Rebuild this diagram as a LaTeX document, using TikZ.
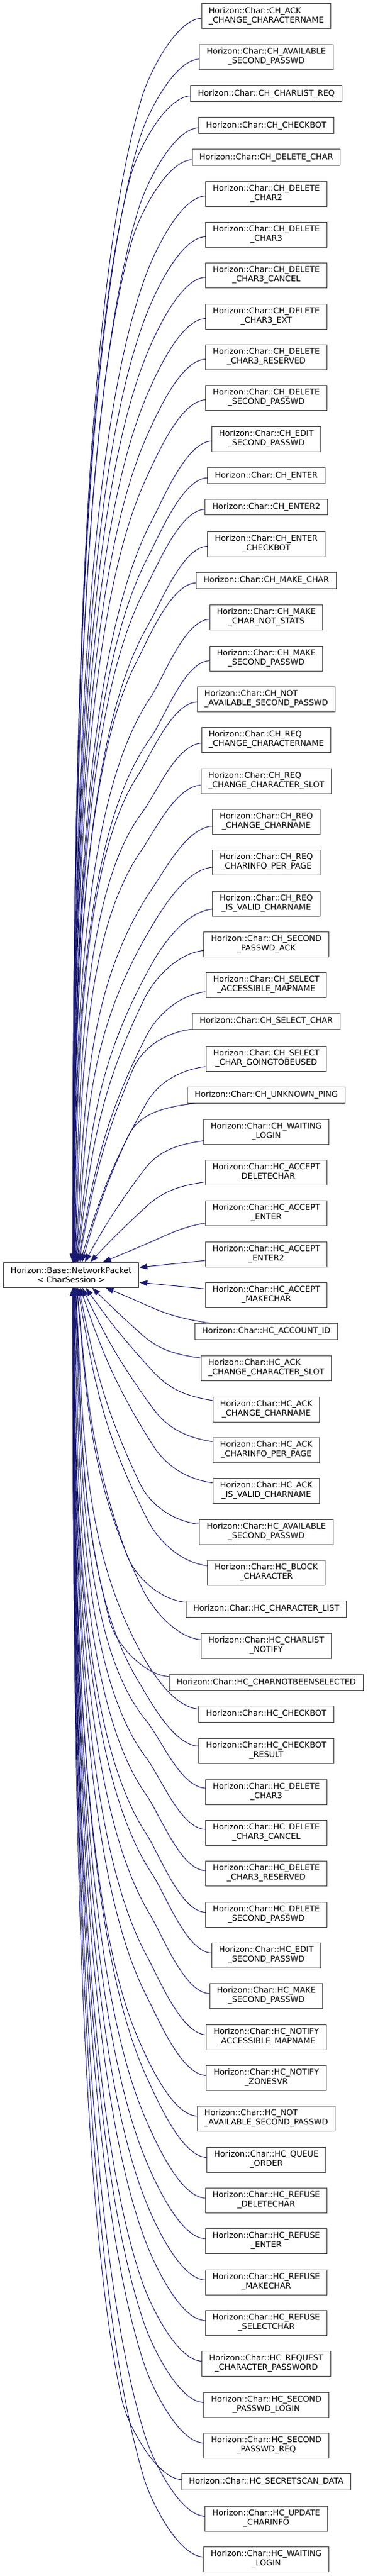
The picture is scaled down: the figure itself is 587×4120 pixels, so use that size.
\documentclass[tikz,border=0pt]{standalone}
\usepackage{fontspec}
\setmainfont{DejaVu Sans}
\usetikzlibrary{arrows.meta}
\newdimen\mywx
\definecolor{edgeblue}{HTML}{191970}
\definecolor{boxgray}{HTML}{404040}
\begin{document}
\begin{tikzpicture}[x=1pt,y=-1pt,
  cls/.style={draw=boxgray, line width=1pt, fill=white, inner xsep=11.5pt, inner ysep=0pt, font=\fontsize{12.85}{15}\selectfont},
  edge/.style={draw=edgeblue, line width=1pt, -{Triangle[length=13pt,width=9pt]}},
]
\useasboundingbox (0,0) rectangle (587,4120);
\node[cls, align=center, minimum height=40pt] (par) at (113.7,2039) {Horizon::Base::NetworkPacket\\< CharSession >};
\foreach \i/\yc/\nl/\al/\txt in {
1/25.7/2/1/{Horizon::Char::CH\_ACK\\\_CHANGE\_CHARACTERNAME},
2/91/2/0/{Horizon::Char::CH\_AVAILABLE\\\_SECOND\_PASSWD},
3/149.7/1/0/{Horizon::Char::CH\_CHARLIST\_REQ},
4/200.7/1/0/{Horizon::Char::CH\_CHECKBOT},
5/251.7/1/0/{Horizon::Char::CH\_DELETE\_CHAR},
6/310/2/0/{Horizon::Char::CH\_DELETE\\\_CHAR2},
7/375/2/0/{Horizon::Char::CH\_DELETE\\\_CHAR3},
8/440/2/0/{Horizon::Char::CH\_DELETE\\\_CHAR3\_CANCEL},
9/506/2/0/{Horizon::Char::CH\_DELETE\\\_CHAR3\_EXT},
10/571/2/0/{Horizon::Char::CH\_DELETE\\\_CHAR3\_RESERVED},
11/636/2/0/{Horizon::Char::CH\_DELETE\\\_SECOND\_PASSWD},
12/702/2/0/{Horizon::Char::CH\_EDIT\\\_SECOND\_PASSWD},
13/760.7/1/0/{Horizon::Char::CH\_ENTER},
14/811/1/0/{Horizon::Char::CH\_ENTER2},
15/870/2/0/{Horizon::Char::CH\_ENTER\\\_CHECKBOT},
16/928.5/1/0/{Horizon::Char::CH\_MAKE\_CHAR},
17/987/2/0/{Horizon::Char::CH\_MAKE\\\_CHAR\_NOT\_STATS},
18/1053/2/0/{Horizon::Char::CH\_MAKE\\\_SECOND\_PASSWD},
19/1118/2/1/{Horizon::Char::CH\_NOT\\\_AVAILABLE\_SECOND\_PASSWD},
20/1183/2/1/{Horizon::Char::CH\_REQ\\\_CHANGE\_CHARACTERNAME},
21/1249/2/1/{Horizon::Char::CH\_REQ\\\_CHANGE\_CHARACTER\_SLOT},
22/1314/2/0/{Horizon::Char::CH\_REQ\\\_CHANGE\_CHARNAME},
23/1379/2/0/{Horizon::Char::CH\_REQ\\\_CHARINFO\_PER\_PAGE},
24/1445/2/0/{Horizon::Char::CH\_REQ\\\_IS\_VALID\_CHARNAME},
25/1510/2/0/{Horizon::Char::CH\_SECOND\\\_PASSWD\_ACK},
26/1575/2/0/{Horizon::Char::CH\_SELECT\\\_ACCESSIBLE\_MAPNAME},
27/1633.5/1/0/{Horizon::Char::CH\_SELECT\_CHAR},
28/1693/2/0/{Horizon::Char::CH\_SELECT\\\_CHAR\_GOINGTOBEUSED},
29/1751.5/1/0/{Horizon::Char::CH\_UNKNOWN\_PING},
30/1810/2/0/{Horizon::Char::CH\_WAITING\\\_LOGIN},
31/1875/2/0/{Horizon::Char::HC\_ACCEPT\\\_DELETECHAR},
32/1940/2/0/{Horizon::Char::HC\_ACCEPT\\\_ENTER},
33/2006/2/0/{Horizon::Char::HC\_ACCEPT\\\_ENTER2},
34/2071/2/0/{Horizon::Char::HC\_ACCEPT\\\_MAKECHAR},
35/2129.5/1/0/{Horizon::Char::HC\_ACCOUNT\_ID},
36/2188/2/1/{Horizon::Char::HC\_ACK\\\_CHANGE\_CHARACTER\_SLOT},
37/2254/2/0/{Horizon::Char::HC\_ACK\\\_CHANGE\_CHARNAME},
38/2319/2/0/{Horizon::Char::HC\_ACK\\\_CHARINFO\_PER\_PAGE},
39/2384/2/0/{Horizon::Char::HC\_ACK\\\_IS\_VALID\_CHARNAME},
40/2450/2/0/{Horizon::Char::HC\_AVAILABLE\\\_SECOND\_PASSWD},
41/2515/2/0/{Horizon::Char::HC\_BLOCK\\\_CHARACTER},
42/2573.5/1/0/{Horizon::Char::HC\_CHARACTER\_LIST},
43/2632/2/0/{Horizon::Char::HC\_CHARLIST\\\_NOTIFY},
44/2691/1/0/{Horizon::Char::HC\_CHARNOTBEENSELECTED},
45/2741.5/1/0/{Horizon::Char::HC\_CHECKBOT},
46/2800/2/0/{Horizon::Char::HC\_CHECKBOT\\\_RESULT},
47/2866/2/0/{Horizon::Char::HC\_DELETE\\\_CHAR3},
48/2931/2/0/{Horizon::Char::HC\_DELETE\\\_CHAR3\_CANCEL},
49/2996/2/0/{Horizon::Char::HC\_DELETE\\\_CHAR3\_RESERVED},
50/3062/2/0/{Horizon::Char::HC\_DELETE\\\_SECOND\_PASSWD},
51/3127/2/0/{Horizon::Char::HC\_EDIT\\\_SECOND\_PASSWD},
52/3192/2/0/{Horizon::Char::HC\_MAKE\\\_SECOND\_PASSWD},
53/3258/2/0/{Horizon::Char::HC\_NOTIFY\\\_ACCESSIBLE\_MAPNAME},
54/3323/2/0/{Horizon::Char::HC\_NOTIFY\\\_ZONESVR},
55/3388/2/1/{Horizon::Char::HC\_NOT\\\_AVAILABLE\_SECOND\_PASSWD},
56/3454/2/0/{Horizon::Char::HC\_QUEUE\\\_ORDER},
57/3519/2/0/{Horizon::Char::HC\_REFUSE\\\_DELETECHAR},
58/3584/2/0/{Horizon::Char::HC\_REFUSE\\\_ENTER},
59/3650/2/0/{Horizon::Char::HC\_REFUSE\\\_MAKECHAR},
60/3715/2/0/{Horizon::Char::HC\_REFUSE\\\_SELECTCHAR},
61/3780/2/0/{Horizon::Char::HC\_REQUEST\\\_CHARACTER\_PASSWORD},
62/3846/2/0/{Horizon::Char::HC\_SECOND\\\_PASSWD\_LOGIN},
63/3911/2/0/{Horizon::Char::HC\_SECOND\\\_PASSWD\_REQ},
64/3969.5/1/0/{Horizon::Char::HC\_SECRETSCAN\_DATA},
65/4028/2/0/{Horizon::Char::HC\_UPDATE\\\_CHARINFO},
66/4093/2/0/{Horizon::Char::HC\_WAITING\\\_LOGIN}}{
  \ifnum\nl=1 \tikzset{curh/.style={minimum height=25.5pt}}\else\tikzset{curh/.style={minimum height=40pt}}\fi
  \ifnum\al=1 \tikzset{cural/.style={align=left}}\else\tikzset{cural/.style={align=center}}\fi
  \node[cls,curh,cural] (c\i) at (425.5,\yc) {\txt};
  \pgfextractx{\mywx}{\pgfpointanchor{c\i}{west}}
  \pgfmathsetmacro\wx{\mywx}
  \pgfmathsetmacro\D{abs(\yc-2039)}
  \pgfmathtruncatemacro\s{(\yc<2039) ? 1 : -1}
  \pgfmathsetmacro\f{min(1,max(0,(\D-100)/900))}
  \pgfmathsetmacro\dx{min(55,5000/\D)}
  \pgfmathsetmacro\xS{113.7+\dx}
  \pgfmathsetmacro\yS{2039-20*\s}
  \pgfmathsetmacro\Bx{\wx-95}
  \pgfmathsetmacro\By{\yc+\s*(50+80*\f)}
  \pgfmathsetmacro\e{5+18*(1-\f)}
  \pgfmathsetmacro\Ax{\wx-40}
  \pgfmathsetmacro\Ay{\yc+\s*\e}
  \pgfmathsetmacro\L{abs(\yS-\By)}
  \pgfmathsetmacro\Qy{\By+\s*max(0.2*\L,(1-\f)*\L)}
  \pgfmathsetmacro\Tx{\xS-\Bx}
  \pgfmathsetmacro\Ty{\Qy-\By}
  \pgfmathsetmacro\Tn{veclen(\Tx,\Ty)}
  \pgfmathsetmacro\ux{\Tx/\Tn}
  \pgfmathsetmacro\uy{\Ty/\Tn}
  \pgfmathsetmacro\Cx{\Bx-40*\ux}
  \pgfmathsetmacro\Cy{\By-40*\uy}
  \pgfmathsetmacro\Lsb{veclen(\xS-\Bx,\yS-\By)}
  \pgfmathsetmacro\bb{min(0.4*\Lsb,0.9*(\Bx-\xS)/abs(\ux))}
  \pgfmathsetmacro\Ex{\Bx+\bb*\ux}
  \pgfmathsetmacro\Ey{\By+\bb*\uy}
  \pgfmathsetmacro\Fx{\xS+(1-\f)*0.4*(\Bx-\xS)}
  \pgfmathsetmacro\Fy{\yS-\s*0.4*\L}
  \ifnum\i=33\relax
    \draw[edge] (c\i) -- ([yshift=12pt]par.east);
  \else\ifnum\i=34\relax
    \draw[edge] (c\i) -- ([yshift=-12pt]par.east);
  \else\ifnum\s>0\relax
    \draw[edge] (c\i) .. controls (\Ax,\Ay) and (\Cx,\Cy) .. (\Bx,\By) .. controls (\Ex,\Ey) and (\Fx,\Fy) .. ([xshift=\dx pt]par.north);
  \else
    \draw[edge] (c\i) .. controls (\Ax,\Ay) and (\Cx,\Cy) .. (\Bx,\By) .. controls (\Ex,\Ey) and (\Fx,\Fy) .. ([xshift=\dx pt]par.south);
  \fi\fi\fi
}
\end{tikzpicture}
\end{document}
